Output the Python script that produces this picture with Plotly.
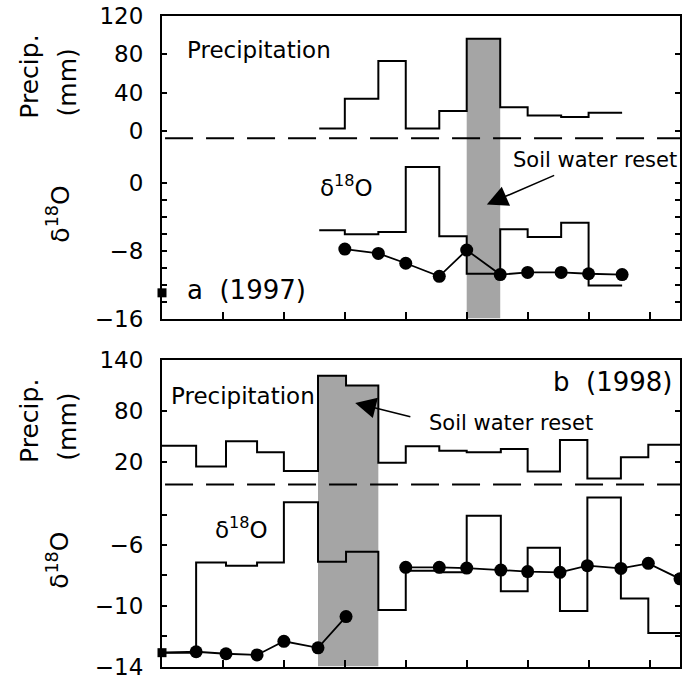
import plotly.graph_objects as go

# ---------------- data ----------------
# sampling dates (x, in tick units) - interval edges; soil samples sit on the edges
edges_a = [2.58, 3.0, 3.55, 4.0, 4.55, 5.0, 5.55, 6.0, 6.55, 7.0, 7.55]
precip_a = [2.6, 33.4, 72.7, 2.6, 20.7, 96.0, 24.6, 16.2, 14.6, 19.0]          # mm per interval
d18o_precip_a = [-5.56, -6.03, -5.76, 1.95, -6.26, -10.7, -5.44, -6.34, -4.67, -12.1]
soil_a = [-7.78, -8.29, -9.46, -11.0, -7.9, -10.8, -10.55, -10.55, -10.7, -10.8]  # at edges_a[1:]
soil_a_start = -12.96          # initial soil value (x = 0)
reset_a = [5]                  # interval indices of soil water reset

edges_b = [0, 0.56, 1.05, 1.56, 2.0, 2.56, 3.02, 3.55, 4.0, 4.55, 5.0, 5.56, 6.0,
           6.53, 6.98, 7.53, 7.98, 8.5]
precip_b = [39.4, 15.2, 44.5, 31.8, 9.9, 121.2, 109.6, 19.5, 38.7, 33.6, 31.8, 35.6,
            9.4, 46.0, 1.0, 26.0, 40.5]
d18o_precip_b = [-13.1, -7.15, -7.36, -7.15, -3.19, -7.1, -6.45, -10.28, -7.69, -7.8,
                 -4.08, -9.05, -6.18, -10.35, -2.87, -9.53, -11.8]
soil_b = [-13.09, -13.03, -13.16, -13.24, -12.34, -12.77, -10.71, None, -7.47, -7.47,
          -7.52, -7.65, -7.75, -7.8, -7.36, -7.54, -7.21, -8.23]               # at edges_b
reset_b = [5, 6]

x_ticks = [0, 1, 2, 3, 4, 5, 6, 7, 8]
d18o_major_a = [-16, -8, 0]
d18o_minor_a = [-14, -12, -10, -6, -4, -2]
precip_ticks_a = [0, 40, 80, 120]
d18o_major_b = [-14, -10, -6]
d18o_minor_b = [-12, -8, -4]
precip_ticks_b = [20, 80, 140]

# ---------------- layout helpers ----------------
W, H = 683, 681
ML, MR, MT, MB = 162, 1, 15, 5
PH = H - MT - MB
PW = W - ML - MR


def fy(ypx):
    return (H - MB - ypx) / PH


def fx(xpx):
    return (xpx - ML) / PW


XR = [0, 8.5]
RANGE_D_A = [-16, 19.85]
RANGE_P_A = [-195.3, 120]
RANGE_D_B = [-14, 6.21]
RANGE_P_B = [-218.4, 140]
SEP_A = -7.7   # dashed separator (precip axis units)
SEP_B = -5.9

FONT = "DejaVu Sans"
BLACK = "black"
GRAY = "rgb(165,165,165)"


def neg(v):
    return ("\u2212" + str(abs(v))) if v < 0 else str(v)


fig = go.Figure()


def step_xy(edges, vals):
    return list(edges), list(vals) + [vals[-1]]


def shade(edges, vals, idx, bottom):
    xs, ys = [edges[idx[0]]], [bottom]
    for i in idx:
        xs += [edges[i], edges[i + 1]]
        ys += [vals[i], vals[i]]
    xs.append(edges[idx[-1] + 1])
    ys.append(bottom)
    return xs, ys


# axes: panel a -> precip on y (base), d18O on y2 (overlay)
#       panel b -> precip on y3 (base), d18O on y4 (overlay)
panels = [
    ("x", "y", "y2", edges_a, precip_a, d18o_precip_a, reset_a, RANGE_P_A[0]),
    ("x2", "y3", "y4", edges_b, precip_b, d18o_precip_b, reset_b, RANGE_P_B[0]),
]
for xa, yp, yd, edges, prc, dpr, reset, bottom in panels:
    sx, sy = shade(edges, prc, reset, bottom)
    fig.add_trace(go.Scatter(x=sx, y=sy, xaxis=xa, yaxis=yp, mode="lines", fill="toself",
                             fillcolor=GRAY, line=dict(width=0), hoverinfo="skip"))
    px_, py_ = step_xy(edges, prc)
    fig.add_trace(go.Scatter(x=px_, y=py_, xaxis=xa, yaxis=yp, mode="lines",
                             line=dict(color=BLACK, width=2, shape="hv")))
    dx_, dy_ = step_xy(edges, dpr)
    fig.add_trace(go.Scatter(x=dx_, y=dy_, xaxis=xa, yaxis=yd, mode="lines",
                             line=dict(color=BLACK, width=2, shape="hv")))

# soil water d18O
fig.add_trace(go.Scatter(x=edges_a[1:], y=soil_a, xaxis="x", yaxis="y2", mode="lines+markers",
                         line=dict(color=BLACK, width=1.8),
                         marker=dict(color=BLACK, size=13, symbol="circle")))
fig.add_trace(go.Scatter(x=[0], y=[soil_a_start], xaxis="x", yaxis="y2", mode="markers",
                         marker=dict(color=BLACK, size=9, symbol="square"), cliponaxis=False))

fig.add_trace(go.Scatter(x=edges_b, y=soil_b, xaxis="x2", yaxis="y4", mode="lines",
                         line=dict(color=BLACK, width=1.8), connectgaps=False))
fig.add_trace(go.Scatter(x=edges_b[1:], y=soil_b[1:], xaxis="x2", yaxis="y4", mode="markers",
                         marker=dict(color=BLACK, size=13, symbol="circle")))
fig.add_trace(go.Scatter(x=edges_b[:1], y=soil_b[:1], xaxis="x2", yaxis="y4", mode="markers",
                         marker=dict(color=BLACK, size=9, symbol="square"), cliponaxis=False))

# ---- axes ----
xcommon = dict(range=XR, tickvals=x_ticks, ticks="inside", ticklen=7, tickwidth=2,
               tickcolor=BLACK, showticklabels=False, showline=True, linewidth=2,
               linecolor=BLACK, mirror=True, showgrid=False, zeroline=False, fixedrange=True)
ycommon = dict(ticks="inside", ticklen=5, tickwidth=2, tickcolor=BLACK, showline=True,
               linewidth=2, linecolor=BLACK, mirror="ticks", showgrid=False, zeroline=False,
               tickfont=dict(family=FONT, size=23, color=BLACK), ticklabelstandoff=12)


def minor(vals):
    return dict(tickvals=vals, ticks="inside", ticklen=5, tickwidth=2, tickcolor=BLACK,
                showgrid=False)


dom_a = [fy(322.7), fy(15.7)]
dom_b = [fy(675.5), fy(364.3)]

fig.update_layout(
    width=W, height=H, margin=dict(l=ML, r=MR, t=MT, b=MB),
    paper_bgcolor="white", plot_bgcolor="white", showlegend=False,
    xaxis=dict(domain=[0, 1], anchor="y", **xcommon),
    yaxis=dict(domain=dom_a, anchor="x", range=RANGE_P_A, tickvals=precip_ticks_a,
               ticktext=[neg(v) for v in precip_ticks_a], **ycommon),
    yaxis2=dict(overlaying="y", anchor="x", side="left", range=RANGE_D_A,
                tickvals=d18o_major_a, ticktext=[neg(v) for v in d18o_major_a],
                minor=minor(d18o_minor_a), **ycommon),
    xaxis2=dict(domain=[0, 1], anchor="y3", **xcommon),
    yaxis3=dict(domain=dom_b, anchor="x2", range=RANGE_P_B, tickvals=precip_ticks_b,
                ticktext=[neg(v) for v in precip_ticks_b], **ycommon),
    yaxis4=dict(overlaying="y3", anchor="x2", side="left", range=RANGE_D_B,
                tickvals=d18o_major_b, ticktext=[neg(v) for v in d18o_major_b],
                minor=minor(d18o_minor_b), **ycommon),
)

dash = "28px,13px"
fig.add_shape(type="line", xref="x", yref="y", x0=0.05, x1=XR[1], y0=SEP_A, y1=SEP_A,
              line=dict(color=BLACK, width=2, dash=dash))
fig.add_shape(type="line", xref="x2", yref="y3", x0=0.05, x1=XR[1], y0=SEP_B, y1=SEP_B,
              line=dict(color=BLACK, width=2, dash=dash))


def txt(text, x, y, xref, yref, size, xanchor="left", angle=0):
    fig.add_annotation(text=text, x=x, y=y, xref=xref, yref=yref, showarrow=False,
                       xanchor=xanchor, yanchor="middle", textangle=angle,
                       font=dict(family=FONT, size=size, color=BLACK))


# panel a texts
txt("Precipitation", 0.38, 84.7, "x", "y", 23)
txt("\u03b4<sup>18</sup>O", 2.56, -0.3, "x", "y2", 23)
txt("a\u00a0 (1997)", 0.38, -12.65, "x", "y2", 26)
txt("Soil water reset", 5.72, 2.77, "x", "y2", 21)
fig.add_annotation(x=5.33, y=-2.5, ax=6.46, ay=1.02, xref="x", yref="y2", axref="x", ayref="y2",
                   text="", showarrow=True, arrowhead=2, arrowsize=2.6, arrowwidth=1.6,
                   arrowcolor=BLACK)

# panel b texts
txt("Precipitation", 0.12, 97, "x2", "y3", 23)
txt("b\u00a0 (1998)", 8.41, 114.2, "x2", "y3", 26, xanchor="right")
txt("Soil water reset", 4.35, 66.3, "x2", "y3", 21)
txt("\u03b4<sup>18</sup>O", 0.84, -4.88, "x2", "y4", 23)
fig.add_annotation(x=3.17, y=89.4, ax=4.1, ay=72.8, xref="x2", yref="y3", axref="x2", ayref="y3",
                   text="", showarrow=True, arrowhead=2, arrowsize=2.6, arrowwidth=1.6,
                   arrowcolor=BLACK)

# y-axis titles
for cy_p, cy_m, cy_d in [(78, 83, 217), (427, 432, 568)]:
    txt("Precip.", fx(29), fy(cy_p), "paper", "paper", 25, xanchor="center", angle=-90)
    txt("(mm)", fx(67), fy(cy_m), "paper", "paper", 25, xanchor="center", angle=-90)
    txt("\u03b4<sup>18</sup>O", fx(58), fy(cy_d), "paper", "paper", 25, xanchor="center", angle=-90)

fig.write_html("out.html")
